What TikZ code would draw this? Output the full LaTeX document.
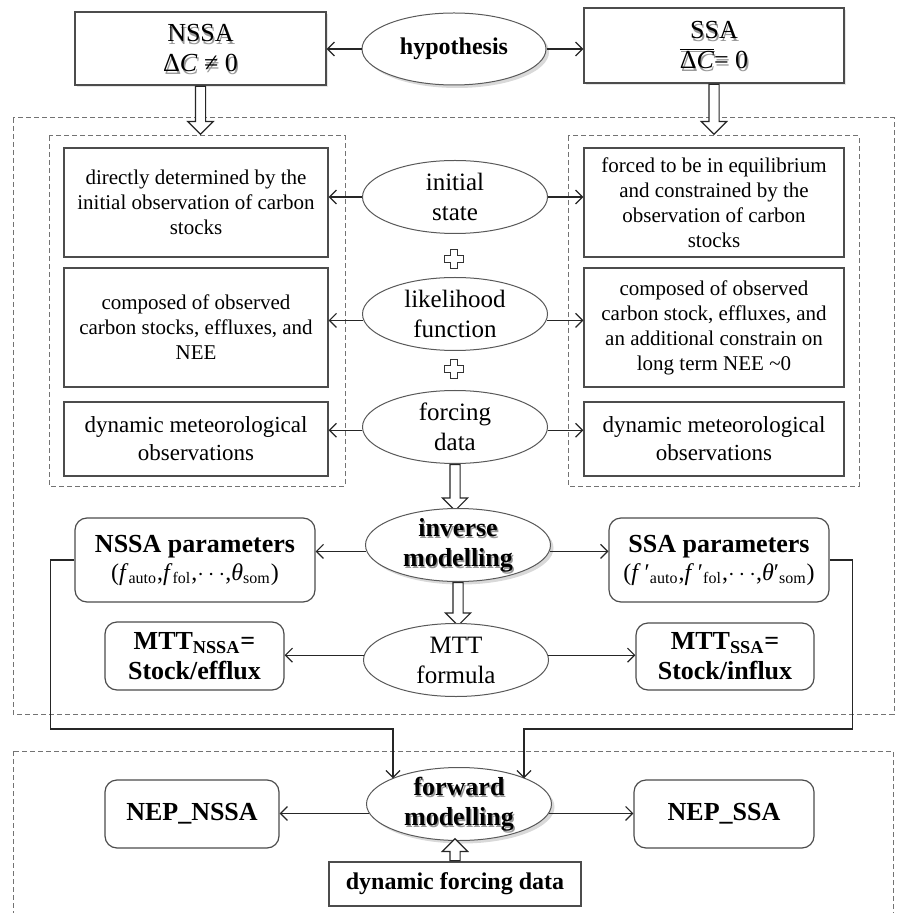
\documentclass[tikz,border=0pt]{standalone}
\usepackage{fontspec}
\setmainfont{Liberation Serif}
\usetikzlibrary{shapes.geometric,shapes.arrows,shadows,arrows.meta,positioning}

\newcommand{\topfont}{\fontsize{13}{15}\selectfont}
\newcommand{\modfont}{\bfseries\fontsize{13}{15}\selectfont}

\begin{document}
\begin{tikzpicture}[x=0.5pt,y=-0.5pt,
    txtbox/.style={draw=black!70, line width=0.6pt, align=center, inner sep=1pt,
      font=\fontsize{10.5}{12.5}\selectfont},
    topbox/.style={txtbox, fill=white, font=\topfont,
      drop shadow={opacity=0.2, shadow xshift=1pt, shadow yshift=-1pt}},
    oval/.style={ellipse, draw=black!65, line width=0.5pt, align=center, fill=white,
      inner xsep=0pt, inner ysep=-4pt, minimum width=92.5pt, minimum height=36.5pt,
      font=\fontsize{12.5}{15}\selectfont},
    boldoval/.style={oval, font=\modfont,
      drop shadow={opacity=0.3, shadow xshift=1.5pt, shadow yshift=-1.5pt}},
    rbox/.style={draw=black!70, line width=0.6pt, rounded corners=6pt, align=center,
      inner sep=1pt, font=\bfseries\fontsize{13}{15}\selectfont},
    hollow/.style={single arrow, draw=black!85, line width=0.6pt, fill=white,
      inner sep=2.25pt, single arrow head extend=3.75pt,
      single arrow head indent=0pt, anchor=tail, minimum height=#1},
    dashbox/.style={draw=black!55, line width=0.5pt, dash pattern=on 2.5pt off 1.5pt},
    conn/.style={-{Straight Barb[length=3.5pt,width=7pt]}, draw=black!85, line width=0.6pt},
    tshade/.style 2 args={path picture={\node[text=black!40, align=center, font=#2]
      at ([shift={(0.7pt,-1.2pt)}]path picture bounding box.center) {#1};}},
  ]
  \useasboundingbox (0,0) rectangle (896,913);

  % dashed frames
  \draw[dashbox] (13,118) rectangle (894,714);
  \draw[dashbox] (49,136) rectangle (345,486);
  \draw[dashbox] (568,136) rectangle (859,486);
  \draw[dashbox] (13,751) rectangle (893,918);

  % hypothesis row
  \node[boldoval, minimum width=92pt, minimum height=36pt, font=\bfseries\fontsize{12}{14}\selectfont,
    drop shadow={opacity=0}] (hyp) at (454,49) {hypothesis};
  \node[topbox, minimum width=125.5pt, minimum height=36.5pt,
    tshade={NSSA\\Δ\textit{C} ≠ 0}{\topfont}] (nssa) at (200.5,48.5) {NSSA\\Δ\textit{C} ≠ 0};
  \node[topbox, minimum width=130pt, minimum height=37.5pt,
    tshade={SSA\\$\overline{\mbox{Δ\textit{C}}}$= 0}{\topfont}] (ssa) at (714,45.5)
    {SSA\\$\overline{\mbox{Δ\textit{C}}}$= 0};
  \draw[conn] (hyp.west) -- (hyp.west -| nssa.east);
  \draw[conn] (hyp.east) -- (hyp.east -| ssa.west);
  \node[hollow=24pt, rotate=-90] (a1) at (nssa.south) {};
  \node[hollow=25pt, rotate=-90] (a2) at (ssa.south) {};

  % inputs of the inversion
  \node[oval] (init) at (455,197) {initial\\state};
  \node[oval] (lik) at (455,314) {likelihood\\function};
  \node[oval] (forc) at (455,427) {forcing\\data};
  \foreach \py in {259,369}{
    \begin{scope}[shift={(454,\py)}]
      \draw[black!80, line width=0.6pt, fill=white] (-3.5,-9.5) -- (3.5,-9.5) -- (3.5,-3.5)
        -- (9.5,-3.5) -- (9.5,3.5) -- (3.5,3.5) -- (3.5,9.5) -- (-3.5,9.5) -- (-3.5,3.5)
        -- (-9.5,3.5) -- (-9.5,-3.5) -- (-3.5,-3.5) -- cycle;
    \end{scope}
  }

  \node[txtbox, minimum width=132pt, minimum height=54.5pt] (l1) at (196,202.5)
    {directly determined by the\\initial observation of carbon\\stocks};
  \node[txtbox, minimum width=132pt, minimum height=59.5pt] (l2) at (196,327.5)
    {composed of observed\\carbon stocks, effluxes, and\\NEE};
  \node[txtbox, minimum width=132pt, minimum height=37pt, font=\fontsize{11.5}{14}\selectfont]
    (l3) at (196,439) {dynamic meteorological\\observations};
  \node[txtbox, minimum width=130pt, minimum height=54.5pt] (r1) at (714,202.5)
    {forced to be in equilibrium\\and constrained by the\\observation of carbon\\stocks};
  \node[txtbox, minimum width=130pt, minimum height=59.5pt] (r2) at (714,327.5)
    {composed of observed\\carbon stock, effluxes, and\\an additional constrain on\\long term NEE \textasciitilde0};
  \node[txtbox, minimum width=130pt, minimum height=37pt, font=\fontsize{11.5}{14}\selectfont]
    (r3) at (714,439) {dynamic meteorological\\observations};

  \draw[conn] (init.west) -- (init.west -| l1.east);
  \draw[conn] (init.east) -- (init.east -| r1.west);
  \draw[conn] (lik.184) -- (lik.184 -| l2.east);
  \draw[conn] (lik.-4) -- (lik.-4 -| r2.west);
  \draw[conn] (forc.182) -- (forc.182 -| l3.east);
  \draw[conn] (forc.-2) -- (forc.-2 -| r3.west);

  % inverse modelling
  \node[hollow=23pt, rotate=-90] (a3) at (forc.south) {};
  \node[boldoval, tshade={inverse\\modelling}{\modfont}] (inv) at (458,545) {inverse\\modelling};
  \node[rbox, minimum width=120pt, minimum height=42pt] (npar) at (195,560)
    {NSSA parameters\\[-1pt]{\mdseries\fontsize{12}{14}\selectfont(\textit{f}\textsubscript{auto},\textit{f}\textsubscript{fol},$\cdots$,\textit{θ}\textsubscript{som})}};
  \node[rbox, minimum width=110pt, minimum height=42pt] (spar) at (719,560)
    {SSA parameters\\[-1pt]{\mdseries\fontsize{12}{14}\selectfont(\textit{f}\,′\textsubscript{auto},\textit{f}\,′\textsubscript{fol},$\cdots$,\textit{θ}′\textsubscript{som})}};
  \draw[conn] (inv.184) -- (inv.184 -| npar.east);
  \draw[conn] (inv.-4) -- (inv.-4 -| spar.west);

  % mean transit time
  \node[hollow=21.5pt, rotate=-90] (a4) at (inv.south) {};
  \node[oval] (mtt) at (456,660) {MTT\\formula};
  \node[rbox, minimum width=89.5pt, minimum height=34pt] (mttn) at (194.5,656)
    {MTT\textsubscript{NSSA}=\\Stock/efflux};
  \node[rbox, minimum width=89pt, minimum height=33.5pt] (mtts) at (725,656.5)
    {MTT\textsubscript{SSA}=\\Stock/influx};
  \draw[conn] (mtt.177) -- (mtt.177 -| mttn.east);
  \draw[conn] (mtt.3) -- (mtt.3 -| mtts.west);

  % forward modelling
  \node[boldoval, tshade={forward\\modelling}{\modfont}] (fwd) at (459,804) {forward\\modelling};
  \node[rbox, minimum width=87pt, minimum height=34pt] (nepn) at (192,814) {NEP\_NSSA};
  \node[rbox, minimum width=90pt, minimum height=34pt] (neps) at (724,814) {NEP\_SSA};
  \node[txtbox, minimum width=126pt, minimum height=22pt, font=\bfseries\fontsize{12}{14}\selectfont]
    (dyn) at (455,884) {dynamic forcing data};
  \node[hollow=11pt, rotate=90] (a5) at (dyn.north) {};
  \draw[conn] (fwd.186) -- (fwd.186 -| nepn.east);
  \draw[conn] (fwd.-6) -- (fwd.-6 -| neps.west);

  \coordinate (jl) at (393,729);
  \coordinate (jr) at (524,729);
  \draw[conn] (npar.west) -- ++(-24,0) |- (jl) -- (jl |- fwd.159);
  \draw[conn] (spar.east) -- ++(23,0) |- (jr) -- (jr |- fwd.21);
\end{tikzpicture}
\end{document}
